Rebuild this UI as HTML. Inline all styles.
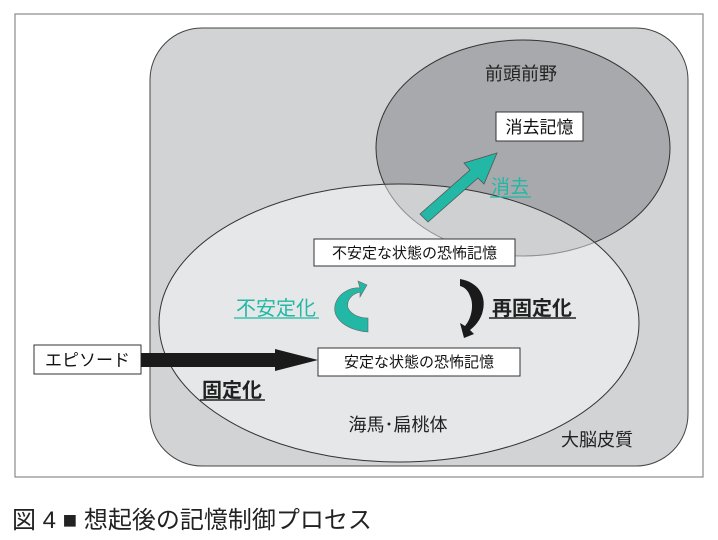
<!DOCTYPE html>
<html><head><meta charset="utf-8"><style>
html,body{margin:0;padding:0;background:#fff;}
svg{display:block;font-family:"Liberation Sans","Noto Sans CJK JP",sans-serif;}
</style></head><body>
<svg width="718" height="540" viewBox="0 0 718 540" xmlns="http://www.w3.org/2000/svg">
<rect x="15" y="14" width="688" height="463" fill="#fff" stroke="#8a8a8a" stroke-width="1.2"/>
<rect x="150" y="28" width="538" height="438" rx="52" fill="#d2d3d5" stroke="#444" stroke-width="1"/>
<ellipse cx="523" cy="148" rx="147" ry="108" fill="#a8a9ac" stroke="#333" stroke-width="1"/>
<ellipse cx="399" cy="323" rx="240" ry="139" fill="#fff" fill-opacity="0.45" stroke="#333" stroke-width="1"/>
<text x="521" y="80" font-size="18" text-anchor="middle" fill="#222">前頭前野</text>
<rect x="496" y="112" width="87" height="29" fill="#fff" stroke="#333"/>
<text x="539.5" y="133" font-size="17" text-anchor="middle" fill="#111">消去記憶</text>
<polygon points="420,214 470,170 464,163 497,153 484,184 478,178 428,222" fill="#22b8a5" stroke="#555" stroke-width="0.8"/>
<text x="510" y="193" font-size="19" text-anchor="middle" fill="#22b8a5">消去</text>
<line x1="490" y1="197" x2="531" y2="197" stroke="#22b8a5" stroke-width="1.2"/>
<rect x="314" y="239" width="201" height="27" fill="#fff" stroke="#333"/>
<text x="414.5" y="258" font-size="15" text-anchor="middle" fill="#111">不安定な状態の恐怖記憶</text>
<rect x="318" y="348" width="202" height="28" fill="#fff" stroke="#333"/>
<text x="419" y="367" font-size="15" text-anchor="middle" fill="#111">安定な状態の恐怖記憶</text>
<rect x="34" y="345" width="107" height="29" fill="#fff" stroke="#333"/>
<text x="87.5" y="366" font-size="17" text-anchor="middle" fill="#111">エピソード</text>
<polygon points="141,353 275,353 275,349 318,360 275,371 275,367 141,367" fill="#1a1a1a"/>
<path d="M368,332 C346,330 330,318 336,302 C340,292 352,287 360,288 L358,281 L367,285 L360,297 L360,292 C352,294 346,300 348,308 C352,316 362,318 368,318 Z" fill="#22b8a5" stroke="#666" stroke-width="0.6"/>
<path d="M460,279 C478,282 488,296 482,314 C479,322 474,327 470,330 L474,334 L464,338 L460,323 L465,326 C472,318 474,304 470,296 C468,290 464,287 460,286 Z" fill="#1a1a1a"/>
<text x="276" y="315" font-size="20" text-anchor="middle" fill="#22b8a5">不安定化</text>
<line x1="234" y1="318" x2="319" y2="318" stroke="#22b8a5" stroke-width="1.2"/>
<text x="532" y="315" font-size="20" font-weight="bold" text-anchor="middle" fill="#222">再固定化</text>
<line x1="489" y1="318" x2="576" y2="318" stroke="#222" stroke-width="1.4"/>
<text x="232" y="397" font-size="20" font-weight="bold" text-anchor="middle" fill="#222">固定化</text>
<line x1="200" y1="400" x2="265" y2="400" stroke="#222" stroke-width="1.4"/>
<text x="398" y="431" font-size="18" text-anchor="middle" fill="#222">海馬･扁桃体</text>
<text x="597" y="446" font-size="18" text-anchor="middle" fill="#222">大脳皮質</text>
<text x="12" y="528" font-size="24" fill="#222">図 4 ■ 想起後の記憶制御プロセス</text>
</svg>
</body></html>
